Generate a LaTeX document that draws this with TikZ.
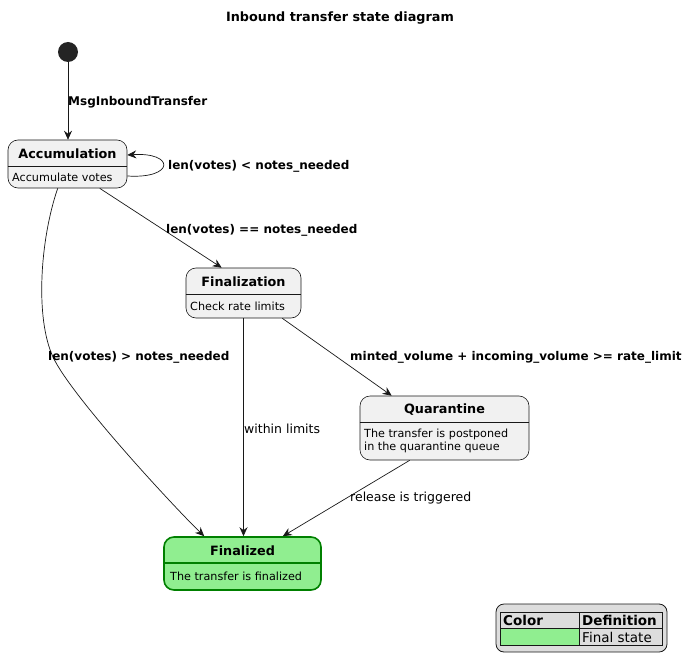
\documentclass[tikz,border=0pt]{standalone}
\usepackage{fontspec}
\setmainfont{DejaVu Sans}
\usetikzlibrary{arrows.meta,calc}
\definecolor{boxfill}{HTML}{F1F1F1}
\definecolor{boxline}{HTML}{181818}
\definecolor{finfill}{HTML}{90EE90}
\definecolor{finline}{HTML}{008000}
\definecolor{legfill}{HTML}{DDDDDD}
\begin{document}
\begin{tikzpicture}[x=1pt,y=-1pt,
  statebox/.style={draw=boxline,fill=boxfill,rounded corners=10pt,line width=0.6pt,inner sep=0pt},
  finalbox/.style={draw=finline,fill=finfill,rounded corners=10pt,line width=1.6pt,inner sep=0pt},
  head/.style={font=\fontsize{12.8}{14}\selectfont\bfseries,inner sep=0pt},
  body/.style={font=\fontsize{11.2}{13.5}\selectfont,inner sep=0pt,anchor=west,align=left},
  lbl/.style={font=\fontsize{12}{13}\selectfont\bfseries,inner sep=0pt,anchor=west},
  lbln/.style={font=\fontsize{12.5}{13}\selectfont,inner sep=0pt,anchor=west},
  legtxt/.style={font=\fontsize{13.5}{14}\selectfont,inner sep=0pt,anchor=west},
  arr/.style={draw=boxline,line width=0.7pt,-{Stealth[length=9pt,width=8pt,inset=3pt]}}]
\useasboundingbox (0,0) rectangle (692,671);
\node[font=\fontsize{12.8}{14}\selectfont\bfseries] (title) at (340,18) {Inbound transfer state diagram};
% start
\node[circle,fill=boxline!95,minimum size=20pt,inner sep=0pt] (start) at (68,52) {};
% Accumulation
\node[statebox,minimum width=119pt,minimum height=48pt] (acc) at (67.5,164) {};
\draw[boxline,line width=0.6pt] (acc.west |- 0,166) -- (acc.east |- 0,166);
\node[head] (acch) at (67.5,153.5) {Accumulation};
\node[body] (accb) at (12,177.5) {Accumulate votes};
% Finalization
\node[statebox,minimum width=115pt,minimum height=50pt] (fin) at (243.5,293) {};
\draw[boxline,line width=0.6pt] (fin.west |- 0,294) -- (fin.east |- 0,294);
\node[head] (finh) at (243.5,282) {Finalization};
\node[body] (finb) at (190,306) {Check rate limits};
% Quarantine
\node[statebox,minimum width=169pt,minimum height=64pt] (qua) at (444.5,428) {};
\draw[boxline,line width=0.6pt] (qua.west |- 0,422) -- (qua.east |- 0,422);
\node[head] (quah) at (444.5,409.5) {Quarantine};
\node[body] (quab) at (364,441) {The transfer is postponed\\in the quarantine queue};
% Finalized
\node[finalbox,minimum width=157pt,minimum height=53pt] (fd) at (242.5,563.5) {};
\draw[finline,line width=1.6pt] (fd.west |- 0,563) -- (fd.east |- 0,563);
\node[head] (fdh) at (242.5,551) {Finalized};
\node[body] (fdb) at (170,576.5) {The transfer is finalized};
% edges
\draw[arr] (start) -- (acc.north -| start);
\node[lbl] (l1) at (68,102) {MsgInboundTransfer};
\draw[arr] ($(acc.east)+(0,12)$) .. controls (175,179) and (175,152) .. ($(acc.east)+(0,-9)$);
\node[lbl] (l2) at (168,166) {len(votes) < notes\_needed};
\draw[arr] ($(acc.south west)+(92,0)$) -- ($(fin.north west)+(36,0)$);
\node[lbl] (l3) at (166,230) {len(votes) == notes\_needed};
\coordinate (mid) at (53,357);
\draw[arr] ($(acc.south west)+(50,0)$) .. controls (40,240) and (35,318) .. (mid)
  .. controls (71,396) and (175,508) .. ($(fd.north west)+(41,0)$);
\node[lbl] (l4) at (48,357) {len(votes) > notes\_needed};
\draw[arr] (fin.south) -- (fin.south |- fd.north);
\node[lbln] (l5) at (244,429) {within limits};
\draw[arr] ($(fin.south east)+(-19,0)$) -- ($(qua.north west)+(32,0)$);
\node[lbl] (l6) at (350,357) {minted\_volume + incoming\_volume >= rate\_limit};
\draw[arr] ($(qua.south west)+(50,0)$) -- ($(fd.north east)+(-39,0)$);
\node[lbln] (l7) at (350,498) {release is triggered};
% legend
\node[draw=boxline,fill=legfill,rounded corners=8pt,line width=0.8pt,minimum width=171pt,minimum height=48pt,inner sep=0pt] (leg) at (581.5,628) {};
\fill[finfill] (500.5,628.5) rectangle (578.5,644.5);
\draw[boxline,line width=0.8pt] (500,628) -- (662,628) (579,612) -- (579,645);
\draw[boxline,line width=0.8pt] (500,612) rectangle (662,645);
\node[legtxt,font=\fontsize{13.5}{14}\selectfont\bfseries] (lc) at (503,620.5) {Color};
\node[legtxt,font=\fontsize{13.5}{14}\selectfont\bfseries] (ld) at (582,620.5) {Definition};
\node[legtxt] (lf) at (582,637) {Final state};
\end{tikzpicture}
\end{document}
